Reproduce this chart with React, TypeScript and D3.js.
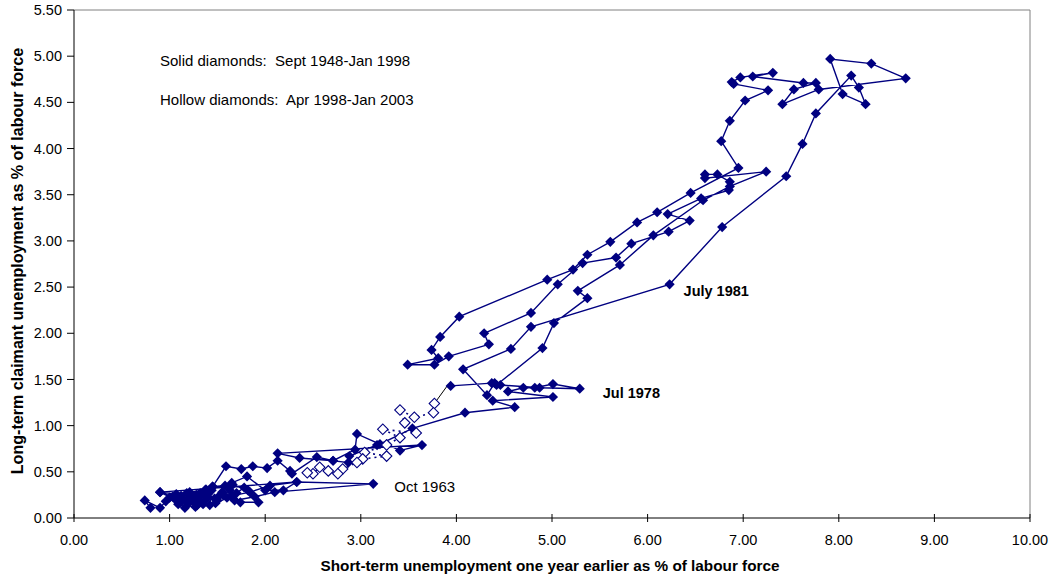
import React from 'react'
import * as d3 from 'd3'

const WIDTH = 1053
const HEIGHT = 580
const margin = { top: 10, right: 23, bottom: 62, left: 74 }

// solid diamonds: Sept 1948 - Jan 1998
const solidShort = [
  0.80, 0.74, 0.90, 0.96, 1.07, 0.90, 1.11, 1.16, 1.23, 1.29,
  1.32, 1.39, 1.44, 1.42, 1.50, 1.56, 1.63, 1.74, 1.93, 1.82,
  1.66, 1.45, 1.32, 1.16, 1.03, 0.90, 2.33, 2.05, 1.84, 1.65,
  1.48, 1.27, 1.09, 1.00, 1.21, 1.37, 1.65, 1.81, 2.00, 2.19,
  2.33, 3.13, 2.10, 1.89, 1.68, 1.51, 1.37, 1.21, 1.07,
  1.12, 1.20, 1.28, 1.35, 1.30, 1.18, 1.25, 1.40, 1.47, 1.55,
  1.60, 1.70, 1.78, 1.58, 1.38, 1.45,
  1.59, 1.75, 1.87, 2.02, 2.13, 2.26, 2.28, 2.54, 2.71, 2.87,
  2.88, 3.17, 3.27, 3.41, 3.64, 2.13, 2.36, 2.71, 2.94, 2.96,
  3.20, 3.54, 4.09, 4.61, 4.38, 5.01, 4.54, 4.70, 4.82, 5.01,
  5.29, 4.87, 4.46, 4.40, 4.32, 4.07, 4.57, 4.78, 6.23, 6.78,
  7.45, 7.62, 7.76, 8.13, 8.21, 8.28, 8.04, 7.91, 8.34, 8.70,
  7.79, 7.41, 7.53, 7.76, 7.63, 7.10, 7.31, 6.97, 6.88, 6.90,
  7.26, 7.02, 6.86, 6.77, 6.95, 6.45, 6.10, 5.89, 5.61, 5.37,
  5.22, 4.95, 4.03, 3.83, 3.74, 3.81, 3.49, 3.77, 3.92, 4.34,
  4.29, 4.78, 5.06, 5.32, 5.67, 5.83, 6.22, 6.44, 6.21, 6.56,
  6.85, 6.86, 6.73, 6.60, 6.60, 7.24, 6.86, 6.58, 6.06, 5.71,
  5.27, 5.37, 5.02, 4.90, 4.42, 4.37, 3.94
]
const solidLong = [
  0.11, 0.19, 0.11, 0.18, 0.26, 0.28, 0.17, 0.11, 0.23, 0.14,
  0.27, 0.22, 0.30, 0.14, 0.19, 0.25, 0.30, 0.17, 0.17, 0.30,
  0.36, 0.34, 0.24, 0.19, 0.23, 0.28, 0.39, 0.35, 0.28, 0.24,
  0.16, 0.12, 0.15, 0.22, 0.28, 0.30, 0.38, 0.45, 0.30, 0.30,
  0.39, 0.37, 0.28, 0.23, 0.19, 0.23, 0.19, 0.21, 0.19,
  0.24, 0.16, 0.25, 0.15, 0.20, 0.27, 0.18, 0.26, 0.21, 0.28,
  0.22, 0.27, 0.33, 0.35, 0.31, 0.34,
  0.56, 0.53, 0.56, 0.54, 0.62, 0.51, 0.48, 0.66, 0.62, 0.60,
  0.67, 0.79, 0.80, 0.73, 0.79, 0.70, 0.65, 0.62, 0.74, 0.91,
  0.80, 0.97, 1.14, 1.20, 1.27, 1.31, 1.37, 1.41, 1.41, 1.45,
  1.40, 1.41, 1.44, 1.46, 1.33, 1.61, 1.83, 2.07, 2.53, 3.15,
  3.70, 4.05, 4.38, 4.79, 4.66, 4.48, 4.59, 4.97, 4.92, 4.76,
  4.64, 4.48, 4.64, 4.71, 4.71, 4.78, 4.82, 4.77, 4.72, 4.70,
  4.63, 4.52, 4.30, 4.08, 3.79, 3.52, 3.31, 3.20, 2.99, 2.85,
  2.69, 2.58, 2.18, 1.96, 1.82, 1.73, 1.66, 1.66, 1.75, 1.88,
  2.00, 2.22, 2.53, 2.76, 2.82, 2.97, 3.10, 3.22, 3.29, 3.46,
  3.55, 3.64, 3.72, 3.72, 3.68, 3.75, 3.59, 3.44, 3.06, 2.74,
  2.46, 2.38, 2.11, 1.84, 1.44, 1.46, 1.43
]

// hollow diamonds: Apr 1998 - Jan 2003
const hollowShort = [
  3.77, 3.76, 3.56, 3.41, 3.46, 3.58, 3.23, 3.41, 3.27, 3.04,
  3.27, 3.02, 2.96, 2.81, 2.76, 2.66, 2.57, 2.50, 2.44
]
const hollowLong = [
  1.24, 1.14, 1.09, 1.17, 1.03, 0.92, 0.96, 0.87, 0.79, 0.71,
  0.67, 0.64, 0.60, 0.53, 0.48, 0.51, 0.55, 0.48, 0.49
]

const xTicks = [0, 1, 2, 3, 4, 5, 6, 7, 8, 9, 10]
const yTicks = [0, 0.5, 1, 1.5, 2, 2.5, 3, 3.5, 4, 4.5, 5, 5.5]

const notes = ['Solid diamonds:  Sept 1948-Jan 1998', 'Hollow diamonds:  Apr 1998-Jan 2003']

// labelled points of the solid series
const callouts = [
  { x: 3.13, y: 0.37, text: 'Oct 1963', bold: false, dx: 21, dy: 8 },
  { x: 5.29, y: 1.40, text: 'Jul 1978', bold: true, dx: 23, dy: 9 },
  { x: 6.23, y: 2.53, text: 'July 1981', bold: true, dx: 14, dy: 12 },
]

const NAVY = '#000080'
const FONT = 'Liberation Sans, Arial, sans-serif'

const App = () => {
  const chartW = WIDTH - margin.left - margin.right
  const chartH = HEIGHT - margin.top - margin.bottom

  const xScale = d3.scaleLinear().domain([0, 10]).range([0, chartW])
  const yScale = d3.scaleLinear().domain([0, 5.5]).range([chartH, 0])

  const solid = solidShort.map((x, i) => [x, solidLong[i]] as [number, number])
  const hollow = hollowShort.map((x, i) => [x, hollowLong[i]] as [number, number])

  const line = d3.line<[number, number]>()
    .x(d => xScale(d[0]))
    .y(d => yScale(d[1]))

  const diamond = d3.symbol().type(d3.symbolSquare).size(52)()
  const hollowDiamond = d3.symbol().type(d3.symbolSquare).size(55)()

  const lastSolid = solid[solid.length - 1]
  const firstHollow = hollow[0]

  return (
    <svg width={WIDTH} height={HEIGHT} style={{ position: 'absolute', left: 0, top: 0, background: '#fff' }}
      fontFamily={FONT}>
      <g transform={`translate(${margin.left},${margin.top})`}>
        {/* frame */}
        <line x1={0} y1={0} x2={chartW} y2={0} stroke="#808080" />
        <line x1={chartW} y1={0} x2={chartW} y2={chartH} stroke="#808080" />

        {/* notes */}
        {notes.map((t, i) => (
          <text key={t} x={86} y={56 + i * 39} fontSize={15} fill="#000" style={{ whiteSpace: 'pre' }}>{t}</text>
        ))}

        {/* solid series */}
        <path d={line(solid) || ''} fill="none" stroke={NAVY} strokeWidth={1.4} />
        {/* link Jan 1998 -> Apr 1998 */}
        <line x1={xScale(lastSolid[0]) - 2} y1={yScale(lastSolid[1]) - 2}
          x2={xScale(firstHollow[0])} y2={yScale(firstHollow[1])} stroke="#000" strokeWidth={1} />
        {/* hollow series */}
        <path d={line(hollow) || ''} fill="none" stroke={NAVY} strokeWidth={1.6} strokeDasharray="2,4" />

        {solid.map((d, i) => (
          <path key={'s' + i} d={diamond}
            transform={`translate(${xScale(d[0])},${yScale(d[1])}) rotate(45)`} fill={NAVY} />
        ))}
        {hollow.map((d, i) => (
          <path key={'h' + i} d={hollowDiamond}
            transform={`translate(${xScale(d[0])},${yScale(d[1])}) rotate(45)`}
            fill="#fff" stroke={NAVY} strokeWidth={1.1} />
        ))}

        {callouts.map(c => (
          <text key={c.text} x={xScale(c.x) + c.dx} y={yScale(c.y) + c.dy}
            fontSize={c.bold ? 14.5 : 15} fontWeight={c.bold ? 'bold' : 'normal'} fill="#000">{c.text}</text>
        ))}

        {/* x axis */}
        <g transform={`translate(0,${chartH})`}>
          <line x1={0} y1={0} x2={chartW} y2={0} stroke="#000" />
          {xTicks.map(t => (
            <g key={t} transform={`translate(${xScale(t)},0)`}>
              <line y1={-4} y2={4} stroke="#000" />
              <text y={27} fontSize={14.5} textAnchor="middle" fill="#000">{t.toFixed(2)}</text>
            </g>
          ))}
        </g>

        {/* y axis */}
        <line x1={0} y1={0} x2={0} y2={chartH} stroke="#000" />
        {yTicks.map(t => (
          <g key={t} transform={`translate(0,${yScale(t)})`}>
            <line x1={-7} x2={0} stroke="#000" />
            <text x={-12} dy="0.35em" fontSize={14.5} textAnchor="end" fill="#000">{t.toFixed(2)}</text>
          </g>
        ))}
      </g>

      <text x={margin.left + chartW / 2 - 2} y={571} fontSize={15.3} fontWeight="bold" textAnchor="middle">
        Short-term unemployment one year earlier as % of labour force
      </text>
      <text transform={`translate(23,${margin.top + chartH / 2 - 3}) rotate(-90)`} fontSize={16.1}
        fontWeight="bold" textAnchor="middle">
        Long-term claimant unemployment as % of labour force
      </text>
    </svg>
  )
}

export default App
